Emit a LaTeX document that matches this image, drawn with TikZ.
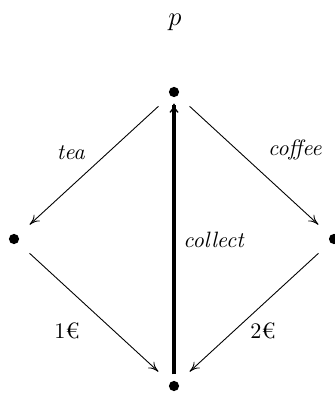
\documentclass[tikz,border=0pt]{standalone}
\usepackage{fontspec}
\setmainfont{Latin Modern Roman}
\usetikzlibrary{arrows.meta}
\begin{document}
\begin{tikzpicture}[x=0.45pt,y=-0.45pt,
  >={Computer Modern Rightarrow[length=4.6pt,width=4pt]},
  dot/.style={circle,fill=black,inner sep=0pt,minimum size=4.6pt},
  conn/.style={->,shorten >=7pt,shorten <=7pt},
  thickconn/.style={-{Computer Modern Rightarrow[length=4.2pt,width=4pt,line width=0.6pt]},ultra thick,shorten >=2.7pt,shorten <=2.7pt},
  lbl/.style={inner sep=0pt}]
\useasboundingbox (0,0) rectangle (334,395);
\node[dot] (top) at (174,92) {};
\node[dot] (left) at (14,239) {};
\node[dot] (right) at (334,239) {};
\node[dot] (bot) at (174,386) {};
\node[lbl,font=\large] (p) at (175,22) {$p$};
\draw[conn] (top) -- (left);
\draw[conn] (top) -- (right);
\draw[conn] (left) -- (bot);
\draw[conn] (right) -- (bot);
\draw[thickconn] (bot) -- (top);
\node[lbl] (tea) at (71,153) {\textit{tea}};
\node[lbl] (coffee) at (295,150) {\textit{coffee}};
\node[lbl] (collect) at (214,240) {\textit{collect}};
\node[lbl] (one) at (67,331) {1€};
\node[lbl] (two) at (263,331) {2€};
\end{tikzpicture}
\end{document}
